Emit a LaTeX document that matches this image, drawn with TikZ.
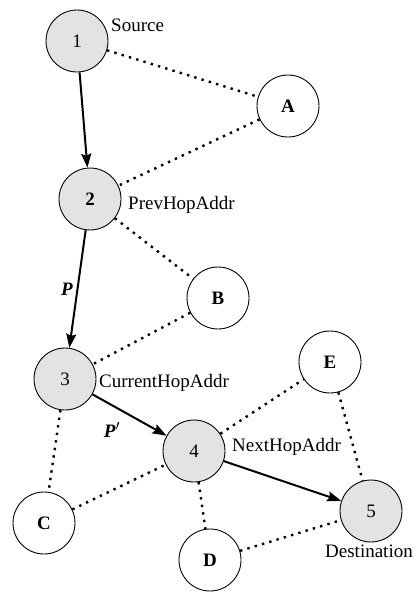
\documentclass[tikz,border=0pt]{standalone}
\usepackage{fontspec}
\setmainfont{Liberation Serif}
\usetikzlibrary{arrows.meta}
\begin{document}
\begin{tikzpicture}[x=1pt,y=-1pt,
  hop/.style={draw,circle,minimum size=62pt,inner sep=0pt,fill=black!11,line width=0.9pt},
  other/.style={draw,circle,minimum size=62pt,inner sep=0pt,fill=white,line width=0.9pt},
  route/.style={line width=2pt,-{Stealth[length=14pt,width=10pt,inset=2pt]}},
  link/.style={line width=2.4pt,dash pattern=on 2.4pt off 5.2pt},
  lbl/.style={inner sep=0pt,anchor=west}]
\tikzstyle{every node}+=[font=\fontsize{19}{22}\selectfont]
\useasboundingbox (0,0) rectangle (416,592);
\node [hop] (n1) at (77,41) {1};
\node [other] (a) at (288,106) {\textbf{A}};
\node [hop] (n2) at (90,199) {\textbf{2}};
\node [other] (b) at (218,298) {\textbf{B}};
\node [hop] (n3) at (65,379) {3};
\node [other] (e) at (330,362) {\textbf{E}};
\node [hop] (n4) at (194,451) {4};
\node [hop] (n5) at (371,511) {5};
\node [other] (c) at (44,523) {\textbf{C}};
\node [other] (d) at (210,560) {\textbf{D}};
\node [lbl] (src) at (111,25) {Source};
\node [lbl] (prev) at (128,205) {PrevHopAddr};
\node [lbl] (curr) at (99,383) {CurrentHopAddr};
\node [lbl] (next) at (232,447) {NextHopAddr};
\node [inner sep=0pt] (dst) at (369,551) {Destination};
\node [inner sep=0pt] (p) at (67,289) {\textbf{\textit{P}}};
\node [inner sep=0pt] (pp) at (112,430) {\textbf{\textit{P$'$}}};
% route
\draw [route] (n1) -- (n2);
\draw [route] (n2) -- (n3);
\draw [route] (n3) -- (n4);
\draw [route] (n4) -- (n5);
% neighbour links
\draw [link] (n1) -- (a);
\draw [link] (a) -- (n2);
\draw [link] (n2) -- (b);
\draw [link] (b) -- (n3);
\draw [link] (n3) -- (c);
\draw [link] (c) -- (n4);
\draw [link] (n4) -- (e);
\draw [link] (e) -- (n5);
\draw [link] (n4) -- (d);
\draw [link] (d) -- (n5);
\end{tikzpicture}
\end{document}
